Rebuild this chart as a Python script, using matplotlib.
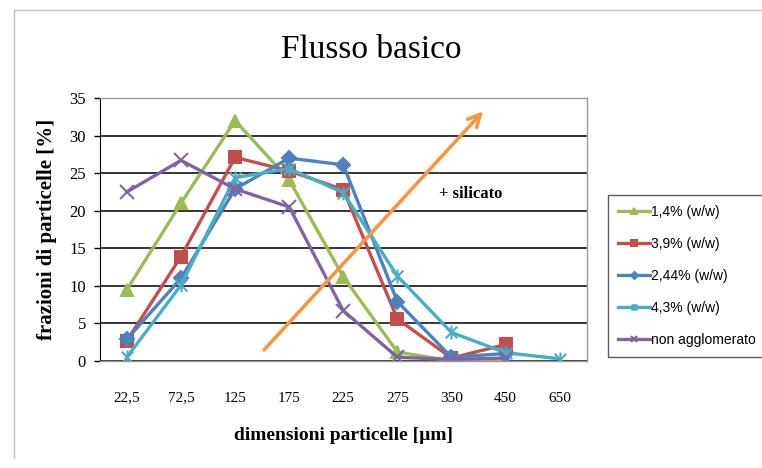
import numpy as np
import matplotlib.pyplot as plt
from matplotlib.path import Path
from matplotlib.lines import Line2D

categories = ['22,5', '72,5', '125', '175', '225', '275', '350', '450', '650']
labels = ['1,4% (w/w)', '3,9% (w/w)', '2,44% (w/w)', '4,3% (w/w)', 'non agglomerato']

s_14 = [9.5, 21.0, 32.0, 24.1, 11.2, 1.2, 0.0, 0.0, np.nan]
s_39 = [2.7, 13.9, 27.1, 25.3, 22.8, 5.6, 0.4, 2.2, np.nan]
s_244 = [2.9, 11.0, 22.9, 27.0, 26.1, 7.9, 0.5, 1.0, np.nan]
s_43 = [0.5, 10.1, 24.4, 25.6, 22.4, 11.3, 3.8, 1.1, 0.3]
s_non = [22.5, 26.7, 22.9, 20.5, 6.7, 0.5, 0.2, 0.4, np.nan]

colors = ['#9BBB59', '#C0504D', '#4F81BD', '#4BACC6', '#8064A2']
arrow_color = '#F79646'

# marker "x" con barra verticale (stile Excel)
star = Path([(-1, -1), (1, 1), (-1, 1), (1, -1), (0, -1.2), (0, 1.2)],
            [Path.MOVETO, Path.LINETO, Path.MOVETO, Path.LINETO, Path.MOVETO, Path.LINETO])
markers = ['^', 's', 'D', star, 'x']
msizes = [9, 8, 7, 10, 10]

serif = ['Liberation Serif', 'DejaVu Serif']
sans = ['Liberation Sans', 'DejaVu Sans']

fig = plt.figure(figsize=(7.62, 4.68), dpi=100)
ax = fig.add_axes([0.131, 0.2286, 0.639, 0.562])

x = np.arange(len(categories))
series = [s_14, s_39, s_244, s_43, s_non]
for vals, lab, c, m, ms in zip(series, labels, colors, markers, msizes):
    face = 'none' if m is star else c
    ax.plot(x, vals, color=c, lw=2.4, marker=m, markersize=ms,
            markeredgecolor=c, markerfacecolor=face, markeredgewidth=1.5, label=lab)

ax.set_xlim(-0.5, 8.5)
ax.set_ylim(0, 35)
ax.set_yticks(np.arange(0, 36, 5))
ax.set_xticks(x)
ax.set_xticklabels(categories, fontfamily=serif, fontsize=11)
for t in ax.get_yticklabels():
    t.set_fontfamily(serif)
    t.set_fontsize(12)
ax.yaxis.grid(True, color='black', lw=1.1)
ax.set_axisbelow(True)
ax.tick_params(axis='x', length=0, pad=22)
ax.tick_params(axis='y', length=4, width=1, color='black', pad=6)
ax.spines['left'].set_color('black')
for s in ['top', 'right', 'bottom']:
    ax.spines[s].set_color('#999999')
    ax.spines[s].set_linewidth(1)

ax.set_xlabel('dimensioni particelle [µm]', fontfamily=serif, fontweight='bold',
              fontsize=14, labelpad=16)
ax.set_ylabel('frazioni di particelle [%]', fontfamily=serif, fontweight='bold',
              fontsize=15, labelpad=9)

# freccia + silicato
ax.annotate('', xy=(6.62, 33.5), xytext=(2.5, 1.2),
            arrowprops=dict(arrowstyle='->', color=arrow_color, lw=2.6, mutation_scale=22))
ax.text(6.35, 22.2, '+ silicato', fontfamily=serif, fontweight='bold', fontsize=12,
        ha='center', va='center')

fig.text(0.487, 0.893, 'Flusso basico', fontfamily=serif, fontsize=24,
         ha='center', va='center')

leg = fig.legend(loc='upper left', bbox_to_anchor=(0.798, 0.583), frameon=True,
                 prop={'family': sans, 'size': 10}, labelspacing=1.3,
                 handlelength=2.3, handletextpad=0.1, borderpad=0.7,
                 markerscale=0.5, fancybox=False, borderaxespad=0)
leg.get_frame().set_edgecolor('#333333')
leg.get_frame().set_linewidth(1)

# bordo del grafico
fig.add_artist(Line2D([14 / 762, 14 / 762], [1 - 10 / 468, 1 - 458 / 468],
                      color='#c0c0c0', lw=1, transform=fig.transFigure))
fig.add_artist(Line2D([14 / 762, 1], [1 - 10 / 468, 1 - 10 / 468],
                      color='#c0c0c0', lw=1, transform=fig.transFigure))

fig.savefig('out.png', dpi=100)
